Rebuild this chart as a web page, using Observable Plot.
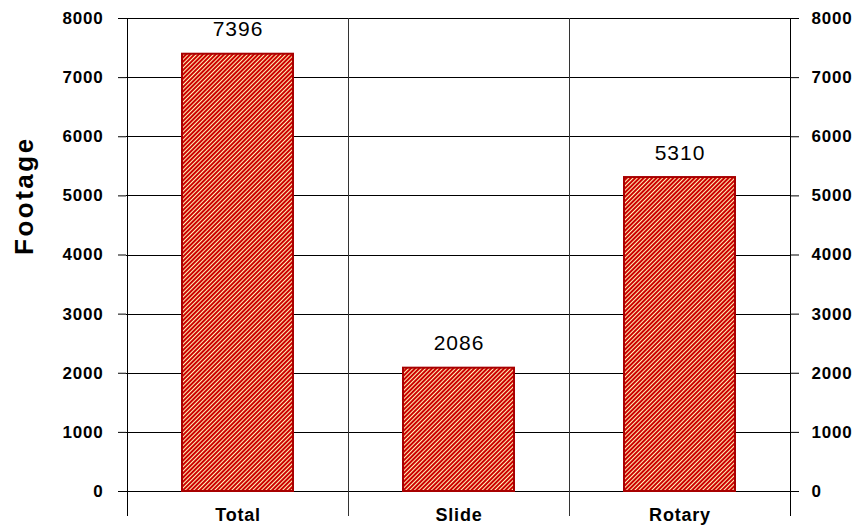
<!DOCTYPE html>
<html>
<head>
<meta charset="utf-8">
<script src="https://cdn.jsdelivr.net/npm/d3@7"></script>
<script src="https://cdn.jsdelivr.net/npm/@observablehq/plot@0.6"></script>
<style>
  html, body { margin: 0; padding: 0; background: #fff; }
  #chart svg { display: block; }
</style>
</head>
<body>
<div id="chart"></div>
<script>
const categories = ["Total", "Slide", "Rotary"];
const footage = [7396, 2086, 5310];
const yTicks = [0, 1000, 2000, 3000, 4000, 5000, 6000, 7000, 8000];
const yLabel = "Footage";

const data = categories.map((c, i) => ({category: c, value: footage[i]}));

const W = 860, H = 531;
const mL = 126, mR = 70, mT = 18, mB = 40;
const step = (W - mL - mR) / categories.length;
const font = "'Liberation Sans', Arial, sans-serif";

const plot = Plot.plot({
  width: W,
  height: H,
  marginLeft: mL,
  marginRight: mR,
  marginTop: mT,
  marginBottom: mB,
  style: {fontFamily: font, background: "#fff", color: "#000"},
  x: {domain: categories, paddingInner: 0.5, paddingOuter: 0.25, label: null},
  y: {domain: [0, 8000], label: null},
  marks: [
    Plot.ruleY(yTicks, {stroke: "#000", strokeWidth: 1, shapeRendering: "crispEdges"}),
    Plot.ruleX(categories.slice(0, -1), {dx: step / 2, stroke: "#333", strokeWidth: 1, insetBottom: -25, shapeRendering: "crispEdges"}),
    Plot.ruleX([categories[0]], {dx: -step / 2, stroke: "#000", strokeWidth: 1, insetBottom: -25, shapeRendering: "crispEdges"}),
    Plot.ruleX([categories[categories.length - 1]], {dx: step / 2, stroke: "#000", strokeWidth: 1, insetBottom: -25, shapeRendering: "crispEdges"}),
    Plot.barY(data, {x: "category", y: "value", fill: "url(#hatch)", stroke: "#a80000", strokeWidth: 2}),
    Plot.text(data, {x: "category", y: "value", text: d => String(d.value), lineAnchor: "bottom", dy: -18, fontSize: 21, fill: "#000"}),
    Plot.axisY({anchor: "left", ticks: yTicks, tickSize: 8, tickPadding: 15, tickFormat: d => String(d), fontSize: 17, fontWeight: "bold", label: null}),
    Plot.axisY({anchor: "right", ticks: yTicks, tickSize: 8, tickPadding: 13, tickFormat: d => String(d), fontSize: 17, fontWeight: "bold", label: null}),
    Plot.axisX({anchor: "bottom", tickSize: 0, tickPadding: 17, fontSize: 18, fontWeight: "bold", label: null}),
    Plot.text([yLabel], {frameAnchor: "left", dx: -102, rotate: -90, text: d => d, fontSize: 26, fontWeight: "bold", fill: "#000"})
  ]
});

// hatch pattern definition
const svg = d3.select(plot);
const defs = svg.insert("defs", ":first-child");
const pat = defs.append("pattern")
  .attr("id", "hatch")
  .attr("patternUnits", "userSpaceOnUse")
  .attr("width", 3)
  .attr("height", 3)
  .attr("patternTransform", "rotate(45)");
pat.append("rect").attr("width", 3).attr("height", 3).attr("fill", "#cc0000");
pat.append("line").attr("x1", 0.5).attr("y1", 0).attr("x2", 0.5).attr("y2", 3)
  .attr("stroke", "#fff4b8").attr("stroke-width", 1);

svg.selectAll("g[aria-label='y-axis tick label'] text, g[aria-label='x-axis tick label'] text").style("letter-spacing", "0.8px");
svg.selectAll("g[aria-label='text'] text").each(function() {
  if (this.textContent === yLabel) this.style.letterSpacing = "2.5px";
  else this.style.letterSpacing = "1px";
});

document.getElementById("chart").appendChild(plot);
</script>
</body>
</html>
